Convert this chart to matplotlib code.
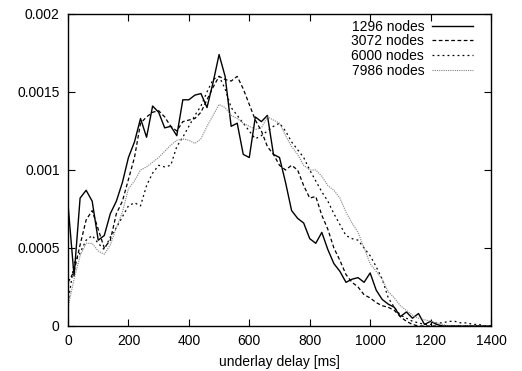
import numpy as np
import matplotlib.pyplot as plt

plt.rcParams['font.family'] = ['Liberation Sans', 'DejaVu Sans']

# underlay delay bins [ms]
delay = np.arange(0, 1401, 20)

nodes_1296 = [0.00078, 0.00032, 0.00082, 0.00087, 0.00080, 0.00055, 0.00058, 0.00072,
              0.00080, 0.00092, 0.00108, 0.00118, 0.00133, 0.00121, 0.00141, 0.00137,
              0.00127, 0.00128, 0.00122, 0.00145, 0.00145, 0.00148, 0.00149, 0.00140,
              0.00156, 0.00174, 0.00160, 0.00128, 0.00130, 0.00110, 0.00108, 0.00134,
              0.00131, 0.00135, 0.00110, 0.00108, 0.00092, 0.00074, 0.00069, 0.00066,
              0.00056, 0.00053, 0.00060, 0.00049, 0.00040, 0.00035, 0.00028, 0.00030,
              0.00031, 0.00028, 0.00034, 0.00023, 0.00017, 0.00014, 0.00012, 0.00006,
              0.00009, 0.00005, 0.00008, 0.00001, 0.00003, 0.00001, 0.0, 0.0,
              0.0, 0.0, 0.0, 0.0, 0.0, 0.0, 0.0]

nodes_3072 = [0.00028, 0.00035, 0.00052, 0.00068, 0.00074, 0.00062, 0.00050, 0.00055,
              0.00072, 0.00080, 0.00094, 0.00108, 0.00130, 0.00134, 0.00137, 0.00138,
              0.00134, 0.00128, 0.00125, 0.00131, 0.00132, 0.00133, 0.00137, 0.00145,
              0.00153, 0.00160, 0.00158, 0.00157, 0.00160, 0.00152, 0.00142, 0.00132,
              0.00125, 0.00115, 0.00110, 0.00103, 0.00100, 0.00103, 0.00100, 0.00090,
              0.00082, 0.00083, 0.00071, 0.00062, 0.00050, 0.00042, 0.00033, 0.00028,
              0.00025, 0.00020, 0.00018, 0.00015, 0.00013, 0.00012, 0.00010, 0.00006,
              0.00003, 0.00001, 0.0, 0.0, 0.0, 0.0, 0.0, 0.0,
              0.0, 0.0, 0.0, 0.0, 0.0, 0.0, 0.0]

nodes_6000 = [0.00015, 0.00040, 0.00047, 0.00055, 0.00058, 0.00053, 0.00049, 0.00057,
              0.00063, 0.00070, 0.00077, 0.00079, 0.00077, 0.00090, 0.00098, 0.00103,
              0.00102, 0.00103, 0.00115, 0.00121, 0.00128, 0.00135, 0.00141, 0.00150,
              0.00158, 0.00160, 0.00152, 0.00140, 0.00135, 0.00130, 0.00125, 0.00120,
              0.00122, 0.00125, 0.00128, 0.00130, 0.00125, 0.00118, 0.00113, 0.00108,
              0.00100, 0.00093, 0.00086, 0.00080, 0.00072, 0.00065, 0.00058, 0.00056,
              0.00055, 0.00050, 0.00045, 0.00038, 0.00030, 0.00018, 0.00012, 0.00007,
              0.00005, 0.00003, 0.00002, 0.00001, 0.00001, 0.00002, 0.00002, 0.00003,
              0.00003, 0.00002, 0.00002, 0.00001, 0.00001, 0.0, 0.0]

nodes_7986 = [0.00012, 0.00030, 0.00045, 0.00053, 0.00053, 0.00048, 0.00046, 0.00052,
              0.00063, 0.00073, 0.00088, 0.00093, 0.00100, 0.00102, 0.00105, 0.00108,
              0.00112, 0.00116, 0.00119, 0.00120, 0.00119, 0.00117, 0.00120, 0.00128,
              0.00135, 0.00142, 0.00140, 0.00135, 0.00133, 0.00130, 0.00128, 0.00126,
              0.00127, 0.00134, 0.00132, 0.00130, 0.00122, 0.00115, 0.00110, 0.00103,
              0.00100, 0.00100, 0.00096, 0.00090, 0.00087, 0.00082, 0.00073, 0.00066,
              0.00060, 0.00050, 0.00040, 0.00035, 0.00030, 0.00022, 0.00018, 0.00013,
              0.00010, 0.00007, 0.00005, 0.00004, 0.00003, 0.00002, 0.00001, 0.0,
              0.0, 0.0, 0.0, 0.0, 0.0, 0.0, 0.0]

fig = plt.figure(figsize=(5.22, 3.71), dpi=100)
ax = fig.add_axes([0.1303, 0.1213, 0.8103, 0.841])

ax.plot(delay, nodes_1296, color='black', lw=1.0, linestyle='-', label='1296 nodes')
ax.plot(delay, nodes_3072, color='black', lw=0.9, linestyle=(0, (3, 2)), label='3072 nodes')
ax.plot(delay, nodes_6000, color='black', lw=0.9, linestyle=(0, (1.5, 2.5)), label='6000 nodes')
ax.plot(delay, nodes_7986, color='#808080', lw=0.8, linestyle=(0, (1, 1)), label='7986 nodes')

ax.set_xlim(0, 1400)
ax.set_ylim(0, 0.002)
ax.set_xticks([0, 200, 400, 600, 800, 1000, 1200, 1400])
ax.set_yticks([0, 0.0005, 0.001, 0.0015, 0.002])
ax.set_yticklabels(['0', '0.0005', '0.001', '0.0015', '0.002'])
ax.tick_params(direction='in', length=5, width=0.8, top=True, right=True,
               labelsize=10, pad=6)
for s in ax.spines.values():
    s.set_linewidth(1.0)
ax.set_xlabel('underlay delay [ms]', fontsize=10, labelpad=5)

ax.legend(loc='upper right', frameon=False, markerfirst=False, fontsize=10,
          handlelength=2.9, handletextpad=0.6, labelspacing=0.05,
          borderaxespad=0.0, bbox_to_anchor=(0.970, 1.0))

fig.savefig('out.png', dpi=100)
